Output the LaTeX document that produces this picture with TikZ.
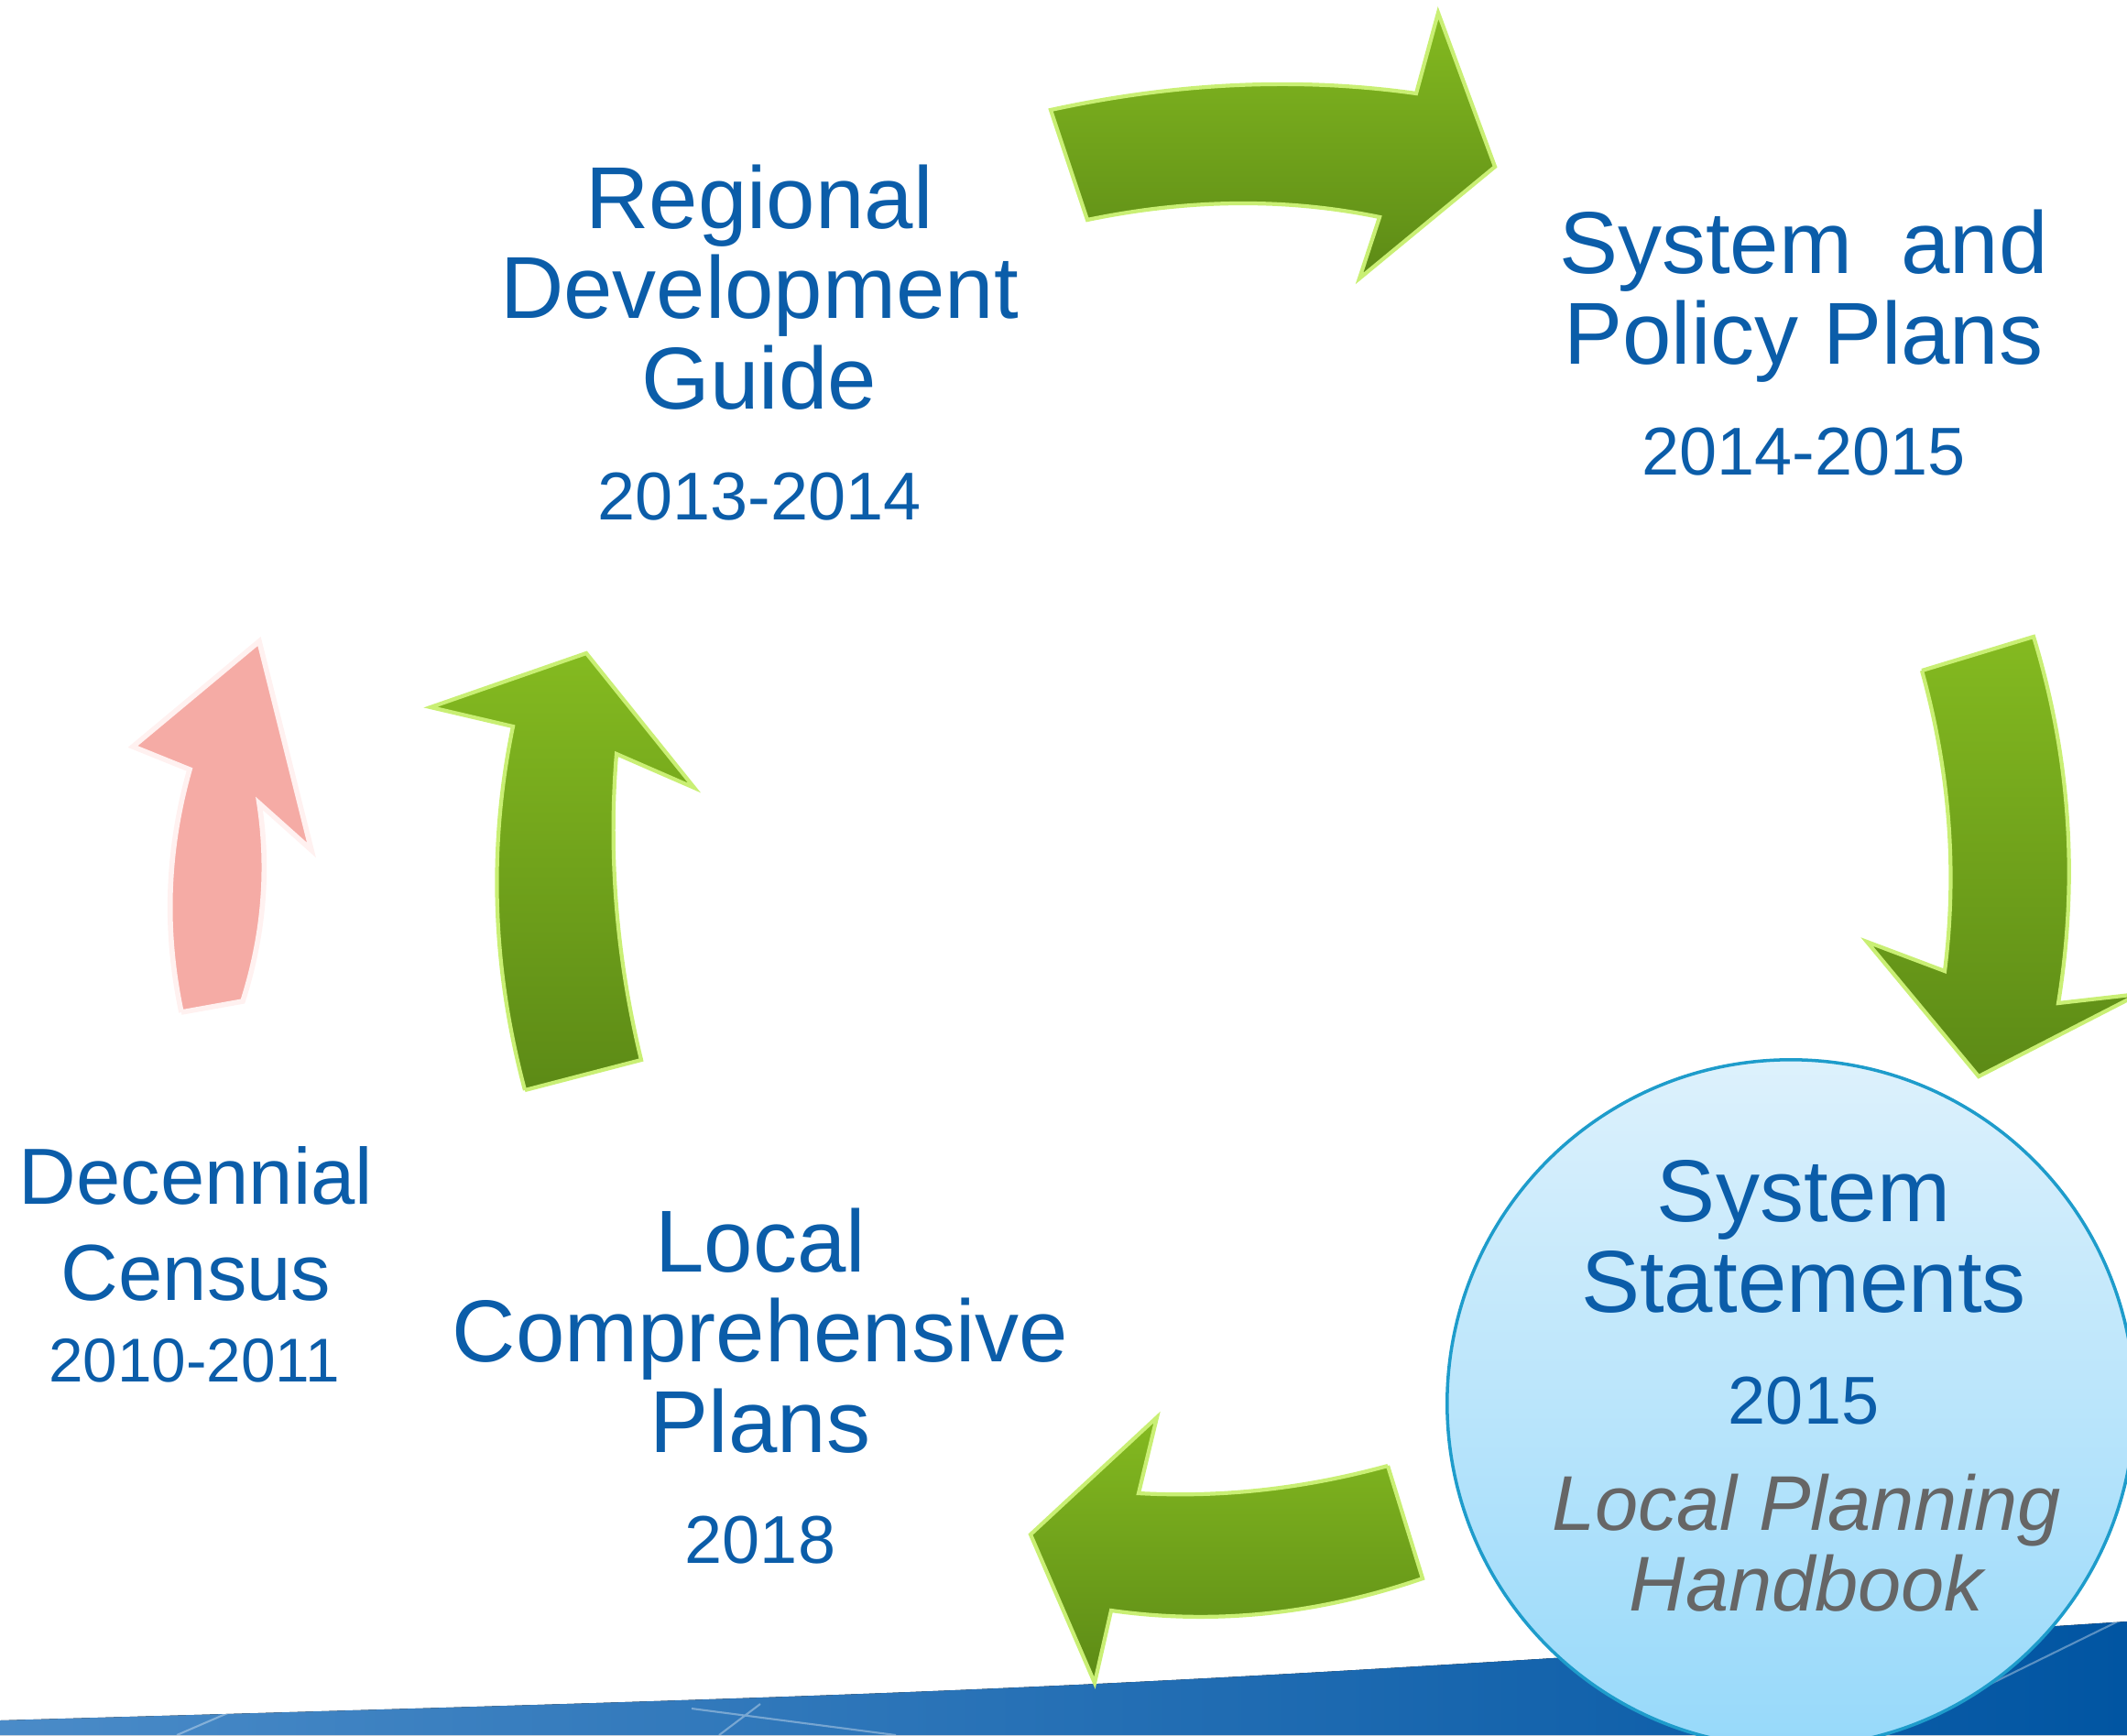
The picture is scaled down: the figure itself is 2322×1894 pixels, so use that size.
\documentclass[tikz,border=0pt]{standalone}
\usepackage{fontspec}
\setmainfont{Liberation Sans}
\usetikzlibrary{positioning}
\definecolor{cycleblue}{HTML}{0B5DA9}
\definecolor{handgray}{HTML}{666666}
\definecolor{leafhi}{HTML}{84BA20}
\definecolor{leaflo}{HTML}{5C8A16}
\definecolor{leafedge}{HTML}{C9EF74}
\definecolor{rosefill}{HTML}{F5ABA5}
\definecolor{roseedge}{HTML}{FFF1F0}
\definecolor{skytop}{HTML}{DDF1FC}
\definecolor{skybot}{HTML}{97D9FA}
\definecolor{skyedge}{HTML}{1E9CCB}
\definecolor{bandlt}{HTML}{4A8BC8}
\definecolor{banddk}{HTML}{0155A2}

\begin{document}
\begin{tikzpicture}[x=0.01cm, y=-0.01cm]
\tikzstyle{every node}=[inner sep=0pt, text=cycleblue, align=center, anchor=base]
\tikzstyle{stagelbl}=[font=\fontsize{27.3}{28}\selectfont]
\tikzstyle{yearlbl}=[font=\fontsize{21}{24}\selectfont]
\tikzstyle{censuslbl}=[font=\fontsize{24.7}{29.6}\selectfont]
\tikzstyle{censusyr}=[font=\fontsize{19.2}{22}\selectfont]
\tikzstyle{handlbl}=[font=\fontsize{24.1}{25}\selectfont\itshape, text=handgray]
\tikzstyle{greenarrow}=[top color=leafhi, bottom color=leaflo, draw=leafedge, line width=1.2pt, line join=miter]
\tikzstyle{rosearrow}=[fill=rosefill, draw=roseedge, line width=1.6pt, line join=miter]
\useasboundingbox (0,0) rectangle (2322,1894);
\clip (0,0) rectangle (2322,1894);

\fill[left color=bandlt, right color=banddk]
  (0,1878) .. controls (1161,1845) .. (2322,1770) -- (2322,1894) -- (0,1894) -- cycle;
\begin{scope}
\clip (0,1878) .. controls (1161,1845) .. (2322,1770) -- (2322,1894) -- (0,1894) -- cycle;
\draw[white, opacity=.35, line width=.6pt] (755,1865) -- (978,1894)
  (830,1860) -- (785,1894) (193,1894) -- (267,1862) (2059,1894) -- (2322,1765);
\end{scope}

\node[circle, minimum size=7.5cm, top color=skytop, bottom color=skybot, draw=skyedge, line width=1pt, anchor=center] (ssdisc) at (1955,1532) {};

\path[greenarrow] (1147,120) .. controls (1285,90) and (1418,84) .. (1546,102) -- (1570,14) -- (1632,182)
  -- (1484,304) -- (1506,237) .. controls (1404,216) and (1298,217) .. (1187,240) -- cycle;
\path[greenarrow] (2098,732) -- (2220,695) .. controls (2260,826) and (2269,959) .. (2247,1095) -- (2335,1085)
  -- (2160,1175) -- (2038,1028) -- (2123,1060) .. controls (2137,949) and (2128,840) .. (2098,732);
\path[greenarrow] (1515,1600) -- (1553,1723) .. controls (1440,1762) and (1326,1774) .. (1213,1758) -- (1195,1837)
  -- (1125,1675) -- (1263,1547) -- (1243,1630) .. controls (1334,1635) and (1424,1625) .. (1515,1600);
\path[greenarrow] (573,1190) -- (700,1157) .. controls (673,1046) and (664,934) .. (673,823) -- (758,860)
  -- (640,713) -- (470,772) -- (560,793) .. controls (533,923) and (537,1056) .. (573,1190);
\path[rosearrow] (198,1105) -- (265,1093) .. controls (288,1021) and (294,949) .. (283,877) -- (340,928)
  -- (283,700) -- (145,815) -- (207,840) .. controls (182,928) and (179,1016) .. (198,1105);

\node[stagelbl] (rdg) at (829,446) {Regional\\Development\\Guide};
\node[yearlbl] (rdgyr) at (829,567) {2013-2014};
\node[stagelbl] (spp) at (1969,397) {System\ \ and\\Policy Plans};
\node[yearlbl] (sppyr) at (1969,518) {2014-2015};
\node[stagelbl] (ss) at (1969,1432) {System\\Statements};
\node[yearlbl] (ssyr) at (1969,1554) {2015};
\node[handlbl] (lph) at (1972,1758) {Local Planning\\Handbook};
\node[stagelbl] (lcp) at (830,1585) {Local\\Comprehensive\\Plans};
\node[yearlbl] (lcpyr) at (830,1706) {2018};
\node[censuslbl] (dc) at (214,1419) {Decennial\\Census};
\node[censusyr] (dcyr) at (212,1508) {2010-2011};
\end{tikzpicture}
\end{document}
